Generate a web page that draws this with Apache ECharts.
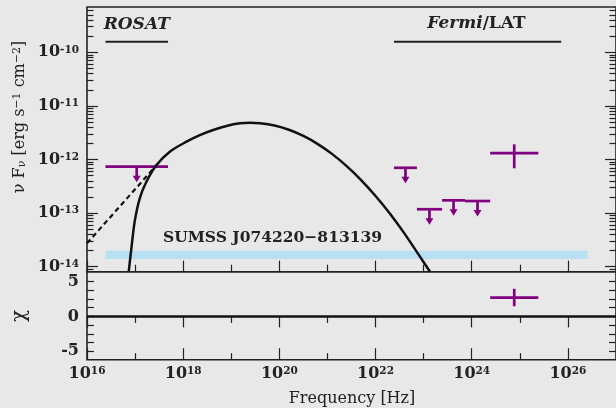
<!DOCTYPE html>
<html>
<head>
    <meta charset="utf-8">
    <title>SED SUMSS J074220-813139</title>
    <script src="https://cdn.jsdelivr.net/npm/echarts@6/dist/echarts.min.js"></script>
    <style>
        html, body { margin: 0; padding: 0; background: #e8e8e8; }
    </style>
</head>
<body>
<div id="main" style="width: 616px;height:408px;"></div>
<script type="text/javascript">
    // ---- data (frequency in Hz, nuFnu in erg s^-1 cm^-2) ----
    // ROSAT 0.1-2 keV upper limit
    var rosatLo = [2.42e16];
    var rosatHi = [4.84e17];
    var rosatNu = [1.08e17];
    var rosatFlux = [7.35e-13];

    // Fermi/LAT bins: four upper limits and one detection
    var fermiLo = [2.42e22, 7.25e22, 2.42e23, 7.25e23, 2.42e24];
    var fermiHi = [7.25e22, 2.42e23, 7.25e23, 2.42e24, 2.42e25];
    var fermiNu = [4.19e22, 1.32e23, 4.19e23, 1.32e24, 7.65e24];
    var fermiFlux = [7.0e-13, 1.18e-13, 1.73e-13, 1.68e-13, 1.32e-12];
    var fermiFluxLo = [7.0e-13, 1.18e-13, 1.73e-13, 1.68e-13, 6.86e-13];
    var fermiFluxHi = [7.0e-13, 1.18e-13, 1.73e-13, 1.68e-13, 1.92e-12];
    var fermiUL = [1, 1, 1, 1, 0];

    // residual of the detected bin
    var chiNu = [7.65e24];
    var chiLo = [2.42e24];
    var chiHi = [2.42e25];
    var chiVal = [2.7];
    var chiErr = [1.25];

    // model curve
    var modelNu = [7.38e16, 8.51e16, 9.84e16, 1.25e17, 1.72e17, 2.79e17, 5.27e17, 1.17e18, 2.22e18,
        4.20e18, 7.94e18, 1.51e19, 2.44e19, 3.98e19, 7.94e19, 1.58e20, 3.16e20, 6.31e20,
        1.26e21, 2.51e21, 5.01e21, 1.0e22, 2.0e22, 3.98e22, 7.94e22, 1.36e23];
    var modelFlux = [8.07e-15, 2.51e-14, 7.08e-14, 1.89e-13, 3.85e-13, 7.89e-13, 1.40e-12, 2.15e-12, 2.85e-12,
        3.55e-12, 4.22e-12, 4.73e-12, 4.86e-12, 4.76e-12, 4.31e-12, 3.59e-12, 2.75e-12, 1.94e-12,
        1.26e-12, 7.53e-13, 4.14e-13, 2.09e-13, 9.77e-14, 4.19e-14, 1.66e-14, 8.07e-15];

    // dashed power law
    var plNu = [1e16, 3.26e17];
    var plFlux = [2.73e-14, 9.18e-13];

    // light blue band
    var bandNu = [2.45e16, 2.57e26];
    var bandFlux = [1.66e-14, 1.66e-14];

    // axes
    var xMin = 16, xMax = 27;
    var xMajor = [16, 18, 20, 22, 24, 26];
    var xMinor = [17, 19, 21, 23, 25];
    var yMajor = [-14, -13, -12, -11, -10];
    var yMinFlux = 8.07e-15, yMaxFlux = 7.0e-10;
    var chiMin = -6.2, chiMax = 6.4;
    var chiLabels = [-5, 0, 5];
    var chiTicks = [-5, -3.75, -2.5, -1.25, 0, 1.25, 2.5, 3.75, 5];

    var lg = Math.log10;
    var purple = '#800080';
    var ink = '#222';
    var serif = 'DejaVu Serif';

    var yMin = lg(yMinFlux), yMax = lg(yMaxFlux);
    var yMinor = [];
    for (var n = -15; n <= -10; n++) {
        for (var k = 2; k <= 9; k++) {
            var v = n + lg(k);
            if (v > yMin && v < yMax) yMinor.push(v);
        }
    }

    var myChart = echarts.init(document.getElementById('main'));

    var sup = {
        b: { fontFamily: serif, fontWeight: 'bold', fontSize: 16, color: ink },
        s: { fontFamily: serif, fontWeight: 'bold', fontSize: 10.5, color: ink, verticalAlign: 'top' }
    };
    function powLabel(v) { return '{b|10}{s|' + Math.round(v) + '}'; }

    function xAx(grid, pos, ticks, len, labels) {
        return {
            type: 'value', gridIndex: grid, position: pos, min: xMin, max: xMax,
            axisLine: { show: false }, splitLine: { show: false },
            axisTick: { inside: true, length: len, customValues: ticks, lineStyle: { color: ink, width: 1.2 } },
            axisLabel: labels ? {
                customValues: labels, formatter: powLabel, rich: sup, margin: 6
            } : { show: false }
        };
    }
    function yAx(grid, pos, min, max, ticks, len, labels, fmt) {
        return {
            type: 'value', gridIndex: grid, position: pos, min: min, max: max,
            axisLine: { show: false }, splitLine: { show: false },
            axisTick: { inside: true, length: len, customValues: ticks, lineStyle: { color: ink, width: 1.2 } },
            axisLabel: labels ? {
                customValues: labels, formatter: fmt, rich: sup, margin: 8,
                fontFamily: serif, fontWeight: 'bold', fontSize: 16, color: ink
            } : { show: false }
        };
    }

    function renderBar(params, api) {
        var xc = api.value(0), y = api.value(1), xl = api.value(2), xh = api.value(3);
        var yl = api.value(4), yh = api.value(5), ul = api.value(6);
        var pL = api.coord([xl, y]), pR = api.coord([xh, y]), pC = api.coord([xc, y]);
        var st = { stroke: purple, lineWidth: 2.7 };
        var kids = [{ type: 'line', shape: { x1: pL[0], y1: pL[1], x2: pR[0], y2: pR[1] }, style: st }];
        if (ul) {
            kids.push({ type: 'line', shape: { x1: pC[0], y1: pC[1], x2: pC[0], y2: pC[1] + 10 }, style: st });
            kids.push({ type: 'polygon', shape: { points: [[pC[0] - 4, pC[1] + 9], [pC[0] + 4, pC[1] + 9], [pC[0], pC[1] + 15.5]] },
                style: { fill: purple } });
        } else {
            var pT = api.coord([xc, yh]), pB = api.coord([xc, yl]);
            kids.push({ type: 'line', shape: { x1: pT[0], y1: pT[1], x2: pB[0], y2: pB[1] }, style: st });
        }
        return { type: 'group', children: kids };
    }

    var fluxBars = [];
    rosatNu.forEach(function (v, i) {
        fluxBars.push([lg(v), lg(rosatFlux[i]), lg(rosatLo[i]), lg(rosatHi[i]), lg(rosatFlux[i]), lg(rosatFlux[i]), 1]);
    });
    fermiNu.forEach(function (v, i) {
        fluxBars.push([lg(v), lg(fermiFlux[i]), lg(fermiLo[i]), lg(fermiHi[i]), lg(fermiFluxLo[i]), lg(fermiFluxHi[i]), fermiUL[i]]);
    });
    var chiBars = chiNu.map(function (v, i) {
        return [lg(v), chiVal[i], lg(chiLo[i]), lg(chiHi[i]), chiVal[i] - chiErr[i], chiVal[i] + chiErr[i], 0];
    });
    function pairs(xs, ys) { return xs.map(function (x, i) { return [lg(x), lg(ys[i])]; }); }

    myChart.setOption({
        backgroundColor: '#e8e8e8',
        animation: false,
        grid: [
            { left: 87, right: 0, top: 7, height: 264.7, show: true, borderColor: ink, borderWidth: 1.6, backgroundColor: 'transparent' },
            { left: 87, right: 0, top: 271.7, height: 88, show: true, borderColor: ink, borderWidth: 1.6, backgroundColor: 'transparent' }
        ],
        xAxis: [
            xAx(0, 'bottom', xMajor, 11),
            xAx(0, 'bottom', xMinor, 7),
            xAx(1, 'top', xMajor, 11),
            xAx(1, 'top', xMinor, 6.5),
            xAx(1, 'bottom', xMajor, 11.5, xMajor),
            xAx(1, 'bottom', xMinor, 6.5)
        ],
        yAxis: [
            yAx(0, 'left', yMin, yMax, yMajor, 11, yMajor, powLabel),
            yAx(0, 'left', yMin, yMax, yMinor, 6.5),
            yAx(0, 'right', yMin, yMax, yMajor, 11),
            yAx(0, 'right', yMin, yMax, yMinor, 6.5),
            yAx(1, 'left', chiMin, chiMax, chiTicks, 7, chiLabels, function (v) { return '{b|' + v + '}'; }),
            yAx(1, 'right', chiMin, chiMax, chiTicks, 7)
        ],
        series: [
            {
                type: 'line', xAxisIndex: 0, yAxisIndex: 0, data: pairs(bandNu, bandFlux),
                symbol: 'none', lineStyle: { color: '#b7e0f2', width: 8.3, cap: 'butt' }, silent: true
            },
            {
                type: 'line', xAxisIndex: 0, yAxisIndex: 0, data: pairs(plNu, plFlux),
                symbol: 'none', lineStyle: { color: '#111', width: 2.2, type: [5, 3.5] }
            },
            {
                type: 'line', xAxisIndex: 0, yAxisIndex: 0, data: pairs(modelNu, modelFlux),
                symbol: 'none', smooth: 0.3, lineStyle: { color: '#111', width: 2.5 }
            },
            {
                type: 'custom', xAxisIndex: 0, yAxisIndex: 0, data: fluxBars, renderItem: renderBar,
                encode: { x: 0, y: 1 }
            },
            {
                type: 'custom', xAxisIndex: 4, yAxisIndex: 4, data: chiBars, renderItem: renderBar,
                encode: { x: 0, y: 1 },
                markLine: {
                    silent: true, symbol: 'none', label: { show: false },
                    lineStyle: { color: '#111', width: 2.6, type: 'solid' },
                    data: [{ yAxis: 0 }]
                }
            }
        ]
    });

    // annotations: instrument bands over the plot, source name, axis titles
    var px = function (v) { return myChart.convertToPixel({ xAxisIndex: 0 }, lg(v)); };
    var rx0 = px(rosatLo[0]), rx1 = px(rosatHi[0]);
    var fx0 = px(fermiLo[0]), fx1 = px(7.25e25);
    var txt = { fontFamily: serif, fill: ink };
    myChart.setOption({
        graphic: [
            { type: 'line', shape: { x1: rx0, y1: 41.7, x2: rx1, y2: 41.7 }, style: { stroke: ink, lineWidth: 2 } },
            { type: 'line', shape: { x1: fx0, y1: 41.7, x2: fx1, y2: 41.7 }, style: { stroke: ink, lineWidth: 2 } },
            {
                type: 'text', x: (rx0 + rx1) / 2, y: 25,
                style: Object.assign({ text: 'ROSAT', fontSize: 17, fontWeight: 'bold', fontStyle: 'italic', align: 'center', verticalAlign: 'middle' }, txt)
            },
            {
                type: 'text', x: 476.5, y: 24,
                style: Object.assign({
                    text: '{i|Fermi}{n|/LAT}', align: 'center', verticalAlign: 'middle',
                    rich: {
                        i: { fontFamily: serif, fontSize: 17, fontWeight: 'bold', fontStyle: 'italic', color: ink },
                        n: { fontFamily: serif, fontSize: 17, fontWeight: 'bold', color: ink }
                    }
                }, txt)
            },
            {
                type: 'text', x: 163, y: 237.5,
                style: Object.assign({ text: 'SUMSS J074220\u2212813139', fontSize: 15.5, fontWeight: 'bold', align: 'left', verticalAlign: 'middle' }, txt)
            },
            {
                type: 'text', x: 20, y: 117, rotation: Math.PI / 2,
                style: Object.assign({
                    text: '{n|\u03bd F}{d|\u03bd}{n| [erg s}{u|\u22121}{n| cm}{u|\u22122}{n|]}',
                    align: 'center', verticalAlign: 'middle',
                    rich: {
                        n: { fontFamily: serif, fontSize: 16, color: ink },
                        d: { fontFamily: serif, fontSize: 11, color: ink, verticalAlign: 'bottom' },
                        u: { fontFamily: serif, fontSize: 11, color: ink, verticalAlign: 'top' }
                    }
                }, txt)
            },
            {
                type: 'text', x: 20, y: 316, rotation: Math.PI / 2,
                style: Object.assign({ text: '\u03c7', fontSize: 20, align: 'center', verticalAlign: 'middle' }, txt)
            },
            {
                type: 'text', x: 352, y: 399,
                style: Object.assign({ text: 'Frequency [Hz]', fontSize: 16, align: 'center', verticalAlign: 'middle' }, txt)
            }
        ]
    });
</script>
</body>
</html>
